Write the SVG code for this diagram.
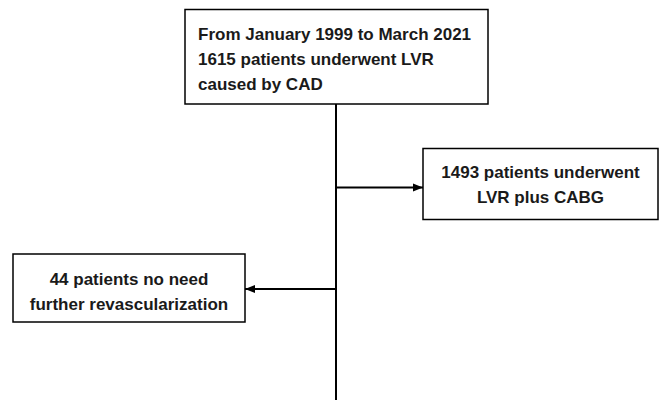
<svg xmlns="http://www.w3.org/2000/svg" width="663" height="400" viewBox="0 0 663 400">
<defs>
<style>
.box{fill:#fff;stroke:#000;stroke-width:1.5}
.t{font-family:"Liberation Sans",Arial,sans-serif;font-weight:bold;font-size:17px;fill:#1a1a1a}
.c{text-anchor:middle}
.ln{stroke:#000;stroke-width:2;fill:none}
</style>
<marker id="ah" viewBox="0 0 10 10" refX="10" refY="5" markerWidth="10" markerHeight="10" markerUnits="userSpaceOnUse" orient="auto">
<path d="M0,1 L10,5 L0,9 z" fill="#000"/>
</marker>
</defs>
<g id="connectors">
<line class="ln" x1="336" y1="104" x2="336" y2="400"/>
<line class="ln" x1="336" y1="187.5" x2="423" y2="187.5" marker-end="url(#ah)"/>
<line class="ln" x1="336" y1="289" x2="245" y2="289" marker-end="url(#ah)"/>
</g>
<g id="node-start">
<rect class="box" x="185" y="9.5" width="303" height="94.5"/>
<text class="t" x="198" y="40">From January 1999 to March 2021</text>
<text class="t" x="198" y="65">1615 patients underwent LVR</text>
<text class="t" x="198" y="90">caused by CAD</text>
</g>
<g id="node-cabg">
<rect class="box" x="423" y="148.5" width="235" height="71"/>
<text class="t c" x="540.5" y="177.5">1493 patients underwent</text>
<text class="t c" x="540.5" y="203">LVR plus CABG</text>
</g>
<g id="node-norevasc">
<rect class="box" x="13" y="254" width="232" height="68"/>
<text class="t c" x="129" y="284.5">44 patients no need</text>
<text class="t c" x="129" y="309.5">further revascularization</text>
</g>
</svg>
